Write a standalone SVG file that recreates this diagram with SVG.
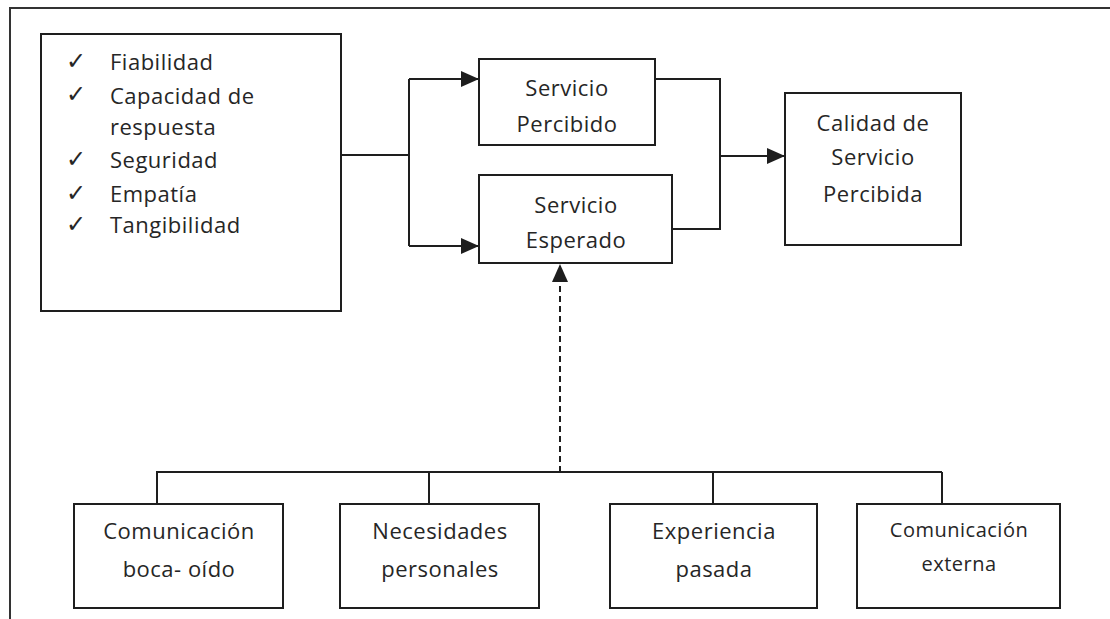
<svg xmlns="http://www.w3.org/2000/svg" width="1110" height="619" viewBox="0 0 1110 619">
<style>
.box{fill:#fff;stroke:#1e1e1e;stroke-width:2}
.ln{fill:none;stroke:#1e1e1e;stroke-width:2}
.t{font-family:"Open Sans","Noto Sans",sans-serif;font-size:22px;fill:#262626;letter-spacing:0.5px}
.c{text-anchor:middle}
.s{font-size:20px}
.ck{font-family:"DejaVu Sans",sans-serif;font-size:24px;fill:#262626}
</style>
<defs>
<marker id="ah" markerUnits="userSpaceOnUse" markerWidth="18" markerHeight="16" refX="18" refY="8" orient="auto">
<path d="M0,0 L18,8 L0,16 z" fill="#1e1e1e"/>
</marker>
</defs>
<rect width="1110" height="619" fill="#fff"/>
<path d="M10,619 V8 H1110" fill="none" stroke="#333" stroke-width="2"/>
<g id="connectors">
<path class="ln" d="M341,155 H409"/>
<path class="ln" d="M409,79 V246"/>
<path class="ln" d="M409,79 H479" marker-end="url(#ah)"/>
<path class="ln" d="M409,246 H479" marker-end="url(#ah)"/>
<path class="ln" d="M655,79 H720 V229 H672"/>
<path class="ln" d="M720,156 H785" marker-end="url(#ah)"/>
<path class="ln" d="M560,472 V264" stroke-dasharray="6,4" marker-end="url(#ah)"/>
<path class="ln" d="M156,472 H942"/>
<path class="ln" d="M157,472 V504 M429,472 V504 M713,472 V504 M942,472 V504"/>
</g>
<g id="dimensiones">
<rect class="box" x="41" y="34" width="300" height="277"/>
<text class="ck" x="66" y="69">✓</text>
<text class="ck" x="66" y="102">✓</text>
<text class="ck" x="66" y="167">✓</text>
<text class="ck" x="66" y="201">✓</text>
<text class="ck" x="66" y="232">✓</text>
<text class="t" x="110" y="70">Fiabilidad</text>
<text class="t" x="110" y="104">Capacidad de</text>
<text class="t" x="110" y="135">respuesta</text>
<text class="t" x="110" y="168">Seguridad</text>
<text class="t" x="110" y="202">Empatía</text>
<text class="t" x="110" y="233">Tangibilidad</text>
</g>
<g id="servicio-percibido">
<rect class="box" x="479" y="59" width="176" height="86"/>
<text class="t c" x="567" y="96">Servicio</text>
<text class="t c" x="567" y="132">Percibido</text>
</g>
<g id="servicio-esperado">
<rect class="box" x="479" y="175" width="193" height="88"/>
<text class="t c" x="576" y="213">Servicio</text>
<text class="t c" x="576" y="248">Esperado</text>
</g>
<g id="calidad">
<rect class="box" x="785" y="93" width="176" height="152"/>
<text class="t c" x="873" y="131">Calidad de</text>
<text class="t c" x="873" y="165">Servicio</text>
<text class="t c" x="873" y="202">Percibida</text>
</g>
<g id="boca-oido">
<rect class="box" x="74" y="504" width="209" height="104"/>
<text class="t c" x="179" y="539">Comunicación</text>
<text class="t c" x="179" y="577">boca- oído</text>
</g>
<g id="necesidades">
<rect class="box" x="340" y="504" width="199" height="104"/>
<text class="t c" x="440" y="539">Necesidades</text>
<text class="t c" x="440" y="577">personales</text>
</g>
<g id="experiencia">
<rect class="box" x="610" y="504" width="207" height="104"/>
<text class="t c" x="714" y="539">Experiencia</text>
<text class="t c" x="714" y="577">pasada</text>
</g>
<g id="comunicacion-externa">
<rect class="box" x="857" y="504" width="203" height="104"/>
<text class="t c s" x="959" y="537">Comunicación</text>
<text class="t c s" x="959" y="571">externa</text>
</g>
</svg>
